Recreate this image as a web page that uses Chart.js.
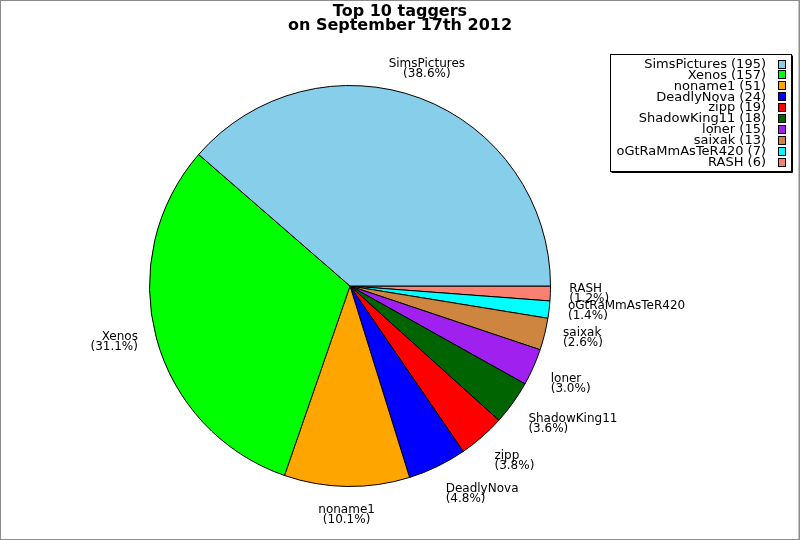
<!DOCTYPE html>
<html>
<head>
<meta charset="utf-8">
<script src="https://cdn.jsdelivr.net/npm/chart.js@4"></script>
<style>
  html, body { margin: 0; padding: 0; background: #fff; }
  #wrap { width: 800px; height: 540px; position: relative; }
</style>
</head>
<body>
<div id="wrap"><canvas id="taggers"></canvas></div>
<script>
// data, in legend order (largest first)
const taggers = ['SimsPictures', 'Xenos', 'noname1', 'DeadlyNova', 'zipp', 'ShadowKing11', 'loner', 'saixak', 'oGtRaMmAsTeR420', 'RASH'];
const tagCounts = [195, 157, 51, 24, 19, 18, 15, 13, 7, 6];
const sliceColors = ['#87CEEB', '#00FF00', '#FFA500', '#0000FF', '#FF0000', '#006400', '#A020F0', '#CD853F', '#00FFFF', '#FA8072'];
const titleLines = ['Top 10 taggers', 'on September 17th 2012'];

const total = tagCounts.reduce((a, b) => a + b, 0);
const FONT = '"DejaVu Sans", sans-serif';

// the original goes counter-clockwise from 3 o'clock, chart.js goes clockwise,
// so feed the slices reversed and start at 90deg
const rev = arr => arr.slice().reverse();

// frame, title and legend
const decorPlugin = {
  id: 'decor',
  beforeDraw(chart) {
    const c = chart.ctx;
    c.save();
    c.fillStyle = '#fff';
    c.fillRect(0, 0, chart.width, chart.height);
    c.restore();
  },
  afterDraw(chart) {
    const c = chart.ctx;
    c.save();
    // outer frame
    c.strokeStyle = '#8c8c8c';
    c.lineWidth = 1;
    c.strokeRect(0.5, 0.5, chart.width - 1.5, chart.height - 1);
    c.beginPath();
    c.moveTo(chart.width - 0.5, 0);
    c.lineTo(chart.width - 0.5, chart.height);
    c.stroke();

    // title
    c.fillStyle = '#000';
    c.font = 'bold 16px ' + FONT;
    c.textAlign = 'center';
    c.textBaseline = 'alphabetic';
    c.fillText(titleLines[0], 400, 15.5);
    c.fillText(titleLines[1], 400, 29.5);

    // legend box
    const bx = 610.5, by = 54.5, bw = 181, bh = 117;
    c.strokeStyle = '#000';
    c.strokeRect(bx, by, bw, bh);
    c.beginPath();
    c.moveTo(bx + bw + 1, by + 1);
    c.lineTo(bx + bw + 1, by + bh + 1);
    c.lineTo(bx + 1, by + bh + 1);
    c.stroke();

    c.font = '13px ' + FONT;
    c.textAlign = 'right';
    c.textBaseline = 'middle';
    taggers.forEach((name, i) => {
      const yc = 64.5 + i * 10.9;
      c.fillStyle = '#000';
      c.fillText(name + ' (' + tagCounts[i] + ')', 766, yc);
      c.fillStyle = sliceColors[i];
      c.fillRect(778.5, Math.round(yc) - 4.5, 7, 8);
      c.strokeRect(778.5, Math.round(yc) - 4.5, 7, 8);
    });
    c.restore();
  }
};

// name + percentage next to every slice
const sliceLabels = {
  id: 'sliceLabels',
  afterDatasetsDraw(chart) {
    const c = chart.ctx;
    const meta = chart.getDatasetMeta(0);
    const names = chart.data.labels;
    const vals = chart.data.datasets[0].data;
    c.save();
    c.font = '12px ' + FONT;
    c.fillStyle = '#000';
    c.textBaseline = 'alphabetic';
    meta.data.forEach((arc, i) => {
      const mid = (arc.startAngle + arc.endAngle) / 2;
      const R = arc.outerRadius + 19;
      const ax = arc.x + R * Math.cos(mid);
      const ay = arc.y + R * Math.sin(mid);
      const cs = Math.cos(mid);
      const sn = -Math.sin(mid); // math sense, up positive
      let align = 'center';
      if (Math.abs(cs) >= 0.4) align = cs > 0 ? 'left' : 'right';
      let dy = 0.5;
      if (sn > 0.3) dy = 0.5 + Math.min(1, (sn - 0.3) / 0.15) * 0.5;
      else if (sn < -0.3) dy = 0.5 - Math.min(1, (-sn - 0.3) / 0.12) * 0.5;
      const base = ay + 8 - dy * 21;
      c.textAlign = align;
      c.fillText(names[i], ax, base);
      c.fillText('(' + (vals[i] / total * 100).toFixed(1) + '%)', ax, base + 10);
    });
    c.restore();
  }
};

const ctx = document.getElementById('taggers').getContext('2d');
const chart = new Chart(ctx, {
  type: 'pie',
  data: {
    labels: rev(taggers),
    datasets: [{
      data: rev(tagCounts),
      backgroundColor: rev(sliceColors),
      borderColor: '#000',
      borderWidth: 1
    }]
  },
  options: {
    responsive: true,
    maintainAspectRatio: false,
    animation: false,
    rotation: 90,
    layout: {
      padding: { left: 149, right: 249, top: 85, bottom: 53 }
    },
    plugins: {
      legend: { display: false },
      title: { display: false },
      tooltip: { enabled: false }
    }
  },
  plugins: [decorPlugin, sliceLabels]
});
</script>
</body>
</html>
